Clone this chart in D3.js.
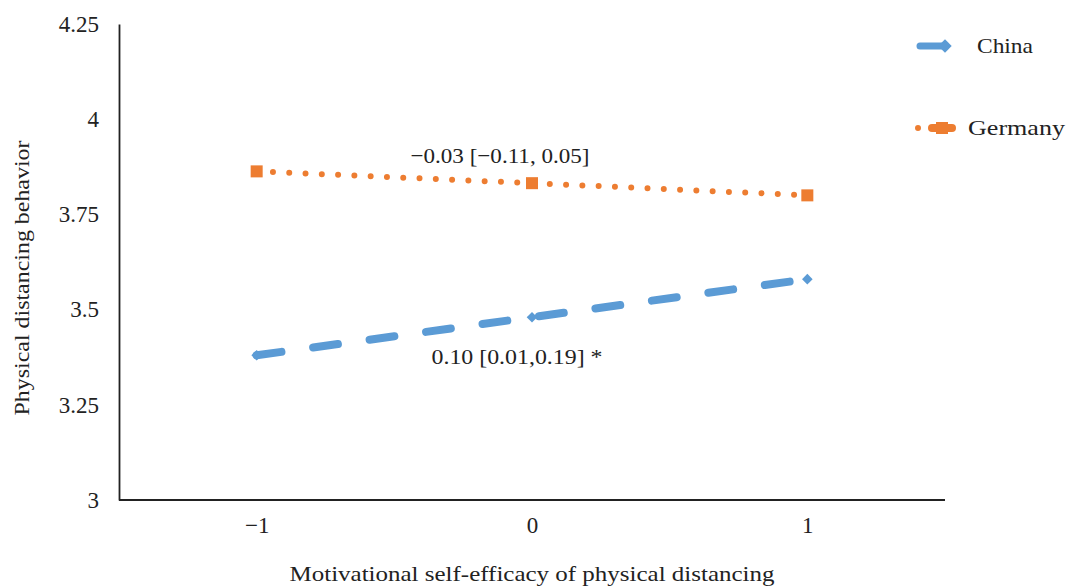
<!DOCTYPE html>
<html><head><meta charset="utf-8">
<script src="https://cdn.jsdelivr.net/npm/d3@7"></script>
<style>body{margin:0;background:#fff}svg{display:block}text{font-family:"Liberation Serif","Times New Roman",serif;fill:#222}</style>
</head><body><svg id="c" width="1067" height="586"></svg>
<script>
const categories = ["-1", "0", "1"];
const categoryLabels = ["\u22121", "0", "1"];
const chinaValues = [3.38, 3.48, 3.58];
const germanyValues = [3.863, 3.832, 3.80];
const yTicks = [3, 3.25, 3.5, 3.75, 4, 4.25];
const yTickLabels = ["3", "3.25", "3.5", "3.75", "4", "4.25"];
const seriesNames = ["China", "Germany"];
const annotations = ["\u22120.03 [\u22120.11, 0.05]", "0.10 [0.01,0.19] *"];

const svg = d3.select("#c");
const L = 119, R = 945, T = 24, B = 500;
const FS = 22;
const x = d3.scalePoint().domain(categories).range([L, R]).padding(0.5);
const y = d3.scaleLinear().domain([3, 4.25]).range([B, T]);

// axes
const yAxis = d3.axisLeft(y).tickValues(yTicks).tickFormat((d, i) => yTickLabels[i]).tickSize(0).tickPadding(20);
const gy = svg.append("g").attr("transform", `translate(${L},0)`).call(yAxis);
gy.select(".domain").attr("stroke", "#222").attr("stroke-width", 1.8);
gy.selectAll("text").attr("font-size", 23).attr("font-family", "Liberation Serif").attr("fill", "#222");

const xAxis = d3.axisBottom(x).tickFormat((d, i) => categoryLabels[i]).tickSize(0).tickPadding(17);
const gx = svg.append("g").attr("transform", `translate(0,${B})`).call(xAxis);
gx.select(".domain").attr("stroke", "#222").attr("stroke-width", 1.8).attr("d", `M${L},0H${R}`);
gx.selectAll("text").attr("font-size", 23).attr("font-family", "Liberation Serif").attr("fill", "#222");

svg.append("text").attr("x", 532).attr("y", 581).attr("text-anchor", "middle").attr("font-size", FS)
  .attr("textLength", 485).attr("lengthAdjust", "spacingAndGlyphs").text("Motivational self-efficacy of physical distancing");
svg.append("text").attr("transform", `translate(29,278) rotate(-90)`).attr("text-anchor", "middle").attr("font-size", FS)
  .attr("textLength", 275).attr("lengthAdjust", "spacingAndGlyphs").text("Physical distancing behavior");

const blue = "#5B9BD5", orange = "#ED7D31";
const line = d3.line().x((d, i) => x(categories[i])).y(d => y(d));

// Germany dotted
svg.append("path").datum(germanyValues).attr("d", line).attr("fill", "none").attr("stroke", orange)
  .attr("stroke-width", 6).attr("stroke-linecap", "round").attr("stroke-dasharray", "0,16.3");
svg.selectAll(".gm").data(germanyValues).enter().append("rect")
  .attr("x", (d, i) => x(categories[i]) - 6).attr("y", d => y(d) - 6).attr("width", 12).attr("height", 12).attr("fill", orange);

// China dashed
svg.append("path").datum(chinaValues).attr("d", line).attr("fill", "none").attr("stroke", blue)
  .attr("stroke-width", 8).attr("stroke-linecap", "round").attr("stroke-dasharray", "25,32");
const diamond = d3.symbol().type(d3.symbolSquare).size(56);
svg.selectAll(".cm").data(chinaValues).enter().append("path")
  .attr("d", diamond).attr("transform", (d, i) => `translate(${x(categories[i])},${y(d)}) rotate(45)`).attr("fill", blue);

// annotations
svg.append("text").attr("x", 500).attr("y", 163).attr("text-anchor", "middle").attr("font-size", FS)
  .attr("textLength", 179).attr("lengthAdjust", "spacingAndGlyphs").text(annotations[0]);
svg.append("text").attr("x", 517).attr("y", 364).attr("text-anchor", "middle").attr("font-size", FS)
  .attr("textLength", 171).attr("lengthAdjust", "spacingAndGlyphs").text(annotations[1]);

// legend
const lg = svg.append("g");
const bigDiamond = d3.symbol().type(d3.symbolSquare).size(90);
lg.append("line").attr("x1", 920).attr("x2", 944).attr("y1", 46).attr("y2", 46).attr("stroke", blue).attr("stroke-width", 7).attr("stroke-linecap", "round");
lg.append("path").attr("d", bigDiamond).attr("transform", "translate(945,46) rotate(45)").attr("fill", blue);
lg.append("text").attr("x", 977).attr("y", 53).attr("font-size", FS).attr("textLength", 56).attr("lengthAdjust", "spacingAndGlyphs").text(seriesNames[0]);
lg.append("line").attr("x1", 918).attr("x2", 968).attr("y1", 128).attr("y2", 128).attr("stroke", orange).attr("stroke-width", 6).attr("stroke-linecap", "round").attr("stroke-dasharray", "0,25");
lg.append("rect").attr("x", 936).attr("y", 122).attr("width", 12).attr("height", 12).attr("fill", orange);
lg.append("line").attr("x1", 932).attr("x2", 952).attr("y1", 128).attr("y2", 128).attr("stroke", orange).attr("stroke-width", 8).attr("stroke-linecap", "round");
lg.append("text").attr("x", 968).attr("y", 135).attr("font-size", FS).attr("textLength", 97).attr("lengthAdjust", "spacingAndGlyphs").text(seriesNames[1]);
</script></body></html>
